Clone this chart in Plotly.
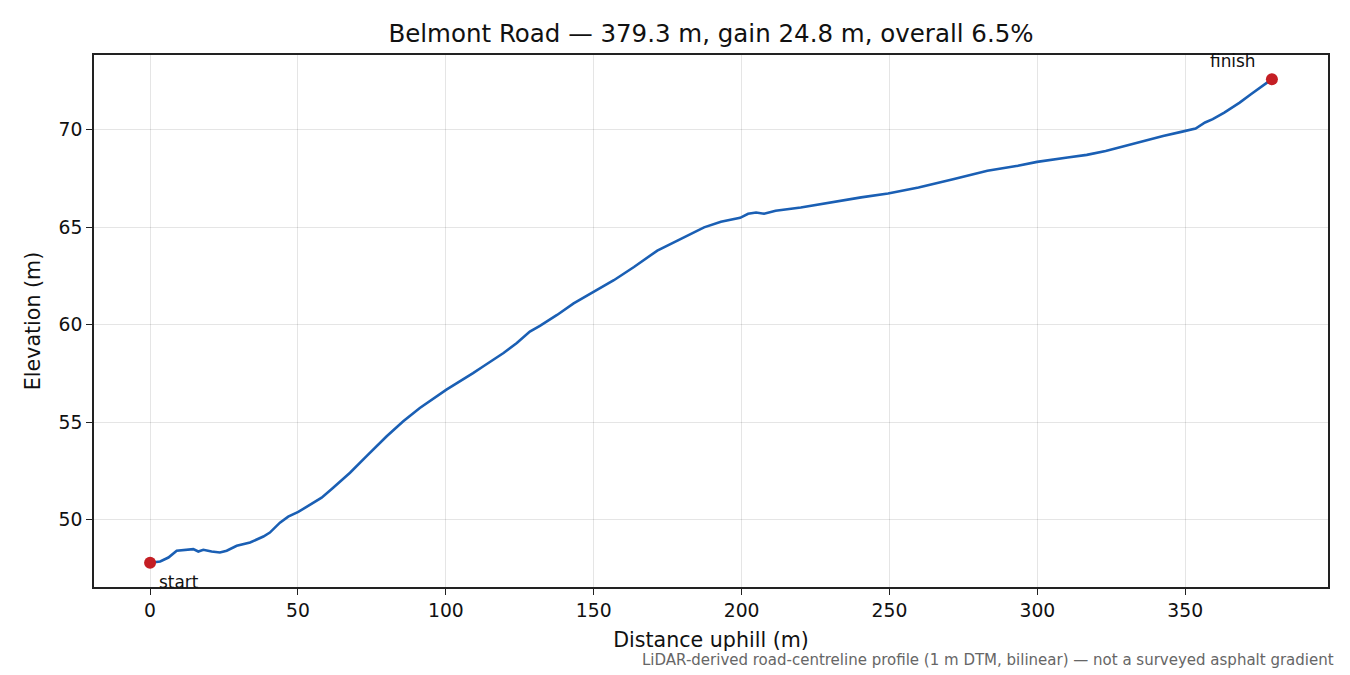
## Elevation profile of Belmont Road, drawn from the LiDAR profile readings
import plotly.graph_objects as go

# Distance along the road (m) and ground elevation (m)
distance = [0, 3.4, 6.2, 9.0, 14.6, 16.3, 18.0, 20.8, 23.6, 25.9, 29.3, 33.8, 38.3,
            40.5, 43.9, 46.7, 50.1, 54.1, 58.0, 61.9, 67.6, 73.2, 80.0, 85.6, 91.2,
            100.2, 105.9, 109.2, 112.7, 119.5, 124.0, 128.4, 131.8, 137.6, 143.2,
            150.0, 156.8, 163.6, 171.5, 178.3, 182.8, 187.3, 193.0, 199.5, 202.2,
            204.9, 207.6, 211.5, 220.0, 231.4, 240.4, 249.5, 259.8, 271.5, 283.1,
            293.4, 299.9, 310.2, 316.7, 323.1, 328.3, 333.5, 336.7, 342.5, 349.0,
            353.5, 356.7, 359.3, 363.2, 368.4, 372.2, 379.3]
elevation = [47.8, 47.87, 48.07, 48.42, 48.5, 48.38, 48.47, 48.38, 48.33, 48.42,
             48.67, 48.84, 49.15, 49.35, 49.86, 50.17, 50.41, 50.77, 51.14, 51.65,
             52.42, 53.27, 54.29, 55.06, 55.74, 56.68, 57.2, 57.53, 57.88, 58.56,
             59.07, 59.66, 59.95, 60.51, 61.1, 61.69, 62.29, 62.97, 63.81, 64.32,
             64.66, 65.0, 65.29, 65.49, 65.7, 65.76, 65.7, 65.85, 66.02, 66.33,
             66.54, 66.74, 67.05, 67.47, 67.9, 68.16, 68.36, 68.58, 68.72, 68.92,
             69.13, 69.35, 69.44, 69.69, 69.91, 70.07, 70.38, 70.55, 70.89, 71.4,
             71.83, 72.6]

x_ticks = [0, 50, 100, 150, 200, 250, 300, 350]
y_ticks = [50, 55, 60, 65, 70]

title = "Belmont Road — 379.3 m, gain 24.8 m, overall 6.5%"
note = "LiDAR-derived road-centreline profile (1 m DTM, bilinear) — not a surveyed asphalt gradient"

font = "DejaVu Sans"

fig = go.Figure()
fig.add_trace(go.Scatter(x=distance, y=elevation, mode="lines",
                         line=dict(color="#1a5fb4", width=2.6), hoverinfo="skip"))
# start and finish markers
fig.add_trace(go.Scatter(x=[distance[0], distance[-1]], y=[elevation[0], elevation[-1]],
                         mode="markers", marker=dict(color="#c41e24", size=12),
                         hoverinfo="skip"))

# matplotlib-like 5% padding around the data
x_pad = (distance[-1] - distance[0]) * 0.05
y_pad = (max(elevation) - min(elevation)) * 0.05

axis_style = dict(showline=True, linecolor="#222", linewidth=1.6, mirror=True,
                  ticks="outside", ticklen=6, tickwidth=1.4, tickcolor="#222",
                  showgrid=True, gridcolor="rgba(0,0,0,0.1)", gridwidth=1.2,
                  zeroline=False, tickfont=dict(size=18.75, color="#111", family=font))

fig.update_layout(
    width=1350, height=675,
    margin=dict(l=94, r=22, t=55, b=88),
    paper_bgcolor="white", plot_bgcolor="white",
    showlegend=False,
    font=dict(family=font, color="#111"),
    title=dict(text=title, xref="paper", x=0.5, xanchor="center", y=0.95, yanchor="middle",
               font=dict(size=24.5, family=font, color="#111")),
    xaxis=dict(range=[distance[0] - x_pad, distance[-1] + x_pad], tickvals=x_ticks,
               title=dict(text="Distance uphill (m)", standoff=12,
                          font=dict(size=20.6, family=font)), **axis_style),
    yaxis=dict(range=[min(elevation) - y_pad, max(elevation) + y_pad], tickvals=y_ticks,
               title=dict(text="Elevation (m)", standoff=12,
                          font=dict(size=20.6, family=font)), **axis_style),
)

fig.add_annotation(x=distance[0], y=elevation[0], text="start", showarrow=False,
                   xanchor="left", yanchor="top", xshift=7, yshift=-7,
                   font=dict(size=16.9, family=font, color="#111"))
fig.add_annotation(x=distance[-1], y=elevation[-1], text="finish", showarrow=False,
                   xanchor="right", yanchor="bottom", xshift=-14, yshift=6,
                   font=dict(size=16.9, family=font, color="#111"))
fig.add_annotation(xref="paper", yref="paper", x=1.0065, y=-0.137, text=note,
                   showarrow=False, xanchor="right", yanchor="middle",
                   font=dict(size=15, family=font, color="#666"))

# drop the page's default body margin so the figure sits at the top-left corner
fig.write_html("out.html", config={"displayModeBar": False},
               post_script="document.body.style.margin = '0';")
